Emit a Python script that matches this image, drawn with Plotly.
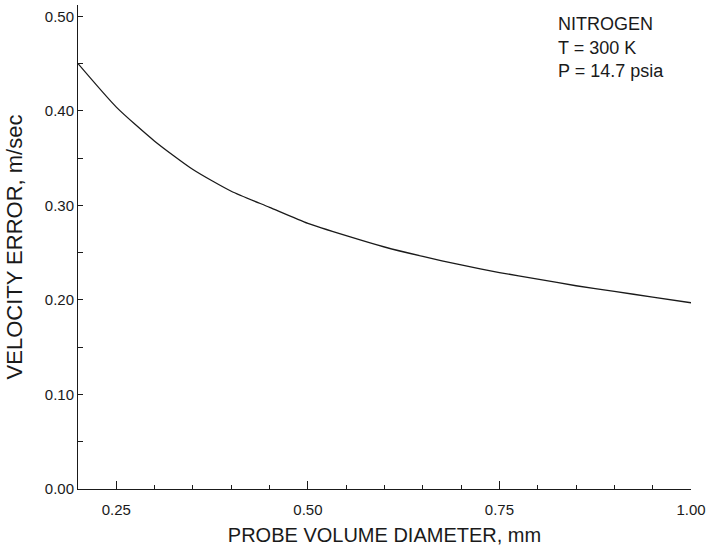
import plotly.graph_objects as go

diameter_mm = [0.20, 0.25, 0.30, 0.35, 0.40, 0.45, 0.50, 0.55, 0.60, 0.65,
               0.70, 0.75, 0.80, 0.85, 0.90, 0.95, 1.00]
velocity_error = [0.450, 0.404, 0.368, 0.338, 0.315, 0.298, 0.281, 0.268, 0.256,
                  0.246, 0.237, 0.229, 0.222, 0.215, 0.209, 0.203, 0.197]

x_tickvals = [0.25, 0.50, 0.75, 1.00]
x_ticktext = ["0.25", "0.50", "0.75", "1.00"]
y_tickvals = [0.00, 0.10, 0.20, 0.30, 0.40, 0.50]
y_ticktext = ["0.00", "0.10", "0.20", "0.30", "0.40", "0.50"]
notes = ["NITROGEN", "T = 300 K", "P = 14.7 psia"]

FONT = "Liberation Sans, Arial, Helvetica, sans-serif"
INK = "#1a1a1a"

W, H = 708, 546
L, R, T, B = 78, 17, 5, 57

fig = go.Figure()
fig.add_trace(go.Scatter(
    x=diameter_mm, y=velocity_error, mode="lines",
    line=dict(color=INK, width=1.3, shape="spline", smoothing=0.6),
    showlegend=False, hoverinfo="skip",
))

fig.update_layout(
    width=W, height=H,
    margin=dict(l=L, r=R, t=T, b=B),
    paper_bgcolor="white", plot_bgcolor="white",
    font=dict(family=FONT, color=INK),
    xaxis=dict(
        range=[0.2, 1.0], showgrid=False, zeroline=False, automargin=False,
        showline=True, linecolor=INK, linewidth=1,
        tickvals=x_tickvals, ticktext=x_ticktext,
        ticks="inside", ticklen=8, tickcolor=INK, tickwidth=1,
        minor=dict(dtick=0.05, tick0=0, ticks="inside", ticklen=4,
                   tickcolor=INK, tickwidth=1, showgrid=False),
        tickfont=dict(size=15, color=INK),
        ticklabelstandoff=7, ticklabeloverflow="allow",
        title=dict(text="PROBE VOLUME DIAMETER, mm",
                   font=dict(size=20, color=INK), standoff=10),
    ),
    yaxis=dict(
        range=[0, 0.512], showgrid=False, zeroline=False, automargin=False,
        showline=True, linecolor=INK, linewidth=1,
        tickvals=y_tickvals, ticktext=y_ticktext,
        ticks="inside", ticklen=5, tickcolor=INK, tickwidth=1,
        minor=dict(dtick=0.05, tick0=0, ticks="inside", ticklen=5,
                   tickcolor=INK, tickwidth=1, showgrid=False),
        tickfont=dict(size=15, color=INK), ticklabeloverflow="allow",
        title=dict(text="VELOCITY ERROR, m/sec",
                   font=dict(size=22, color=INK), standoff=16),
    ),
)

note_y = [24, 48, 71]
for t, yy in zip(notes, note_y):
    fig.add_annotation(
        text=t, xref="paper", yref="paper",
        x=(556 - L) / (W - L - R), y=1 - (yy - T) / (H - T - B),
        xanchor="left", yanchor="middle", showarrow=False,
        font=dict(size=18, color=INK, family=FONT),
    )

fig.write_html(
    "out.html",
    config={"displayModeBar": False},
    post_script="document.body.style.margin='0';document.body.style.overflow='hidden';",
)
